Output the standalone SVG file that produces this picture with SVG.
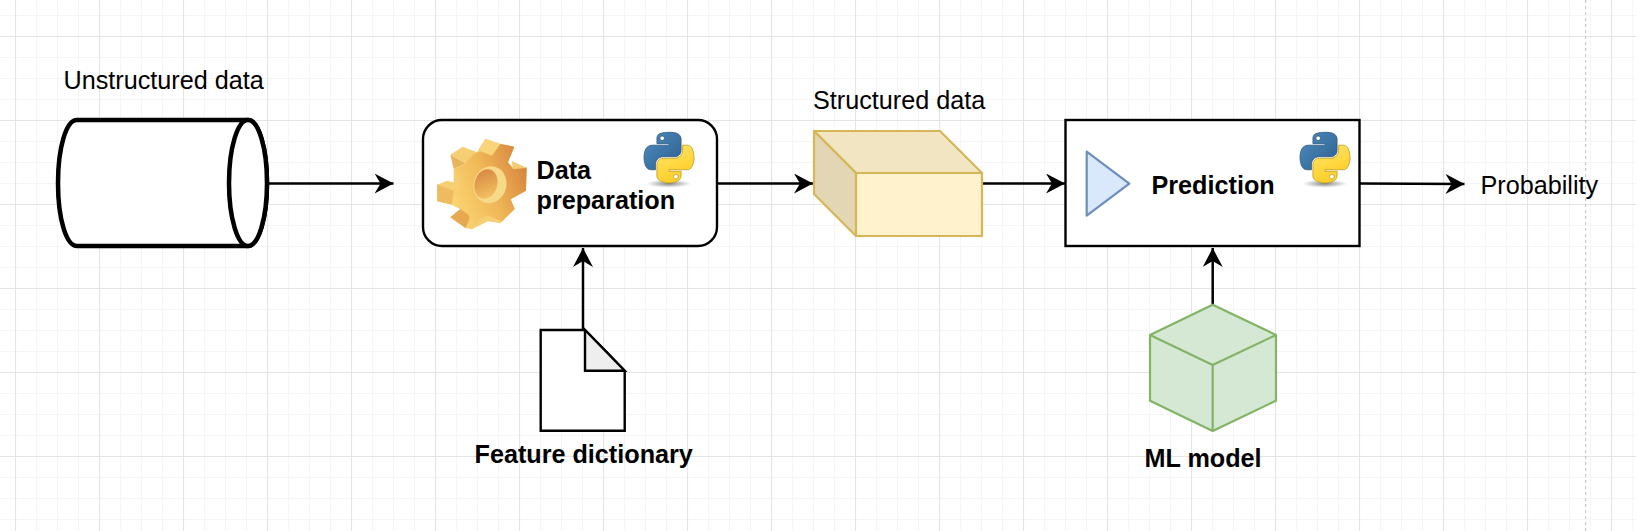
<svg xmlns="http://www.w3.org/2000/svg" xmlns:xlink="http://www.w3.org/1999/xlink" width="1636" height="531" viewBox="0 0 1636 531">
<style>
text{font-family:"Liberation Sans",Arial,sans-serif;font-size:25.2px;fill:#000}
.b{font-weight:bold}
.conn{fill:none;stroke:#000;stroke-width:2.5}
.k{stroke:#000;stroke-width:2.4;fill:#fff}
.y{stroke:#d6b656;stroke-width:2.2;stroke-linejoin:round}
.g{stroke:#82b366;stroke-width:2.2;fill:#d5e8d4;stroke-linejoin:round}
</style>
<defs>
<pattern id="grid" patternUnits="userSpaceOnUse" x="15" y="36" width="84" height="84">
<path d="M21.5 0V84M42.5 0V84M63.5 0V84M0 21.5H84M0 42.5H84M0 63.5H84" stroke="#f5f5f5" stroke-width="1" fill="none"/>
<path d="M.5 0V84M0 .5H84" stroke="#e4e4e4" stroke-width="1.2" fill="none"/>
</pattern>
<marker id="arr" markerUnits="userSpaceOnUse" viewBox="0 0 19 20" refX="19" refY="10" markerWidth="19" markerHeight="20" orient="auto">
<path d="M0 0L19 10L0 20L6 10Z" fill="#000"/>
</marker>
<linearGradient id="pyB" gradientUnits="userSpaceOnUse" x1="0" y1="0" x2="80" y2="70"><stop offset="0" stop-color="#4f8cbc"/><stop offset="1" stop-color="#2f6494"/></linearGradient>
<linearGradient id="pyY" gradientUnits="userSpaceOnUse" x1="70" y1="100" x2="45" y2="45"><stop offset="0" stop-color="#ffd02e"/><stop offset="1" stop-color="#ffe05a"/></linearGradient>
<radialGradient id="pyS"><stop offset="0" stop-color="#666" stop-opacity=".8"/><stop offset="1" stop-color="#777" stop-opacity="0"/></radialGradient>
<linearGradient id="gF" gradientUnits="userSpaceOnUse" x1="60" y1="210" x2="285" y2="120"><stop offset="0" stop-color="#fbd572"/><stop offset=".5" stop-color="#f0b858"/><stop offset="1" stop-color="#d9873f"/></linearGradient>
<linearGradient id="gH" gradientUnits="userSpaceOnUse" x1="135" y1="120" x2="190" y2="195"><stop offset="0" stop-color="#d98a45"/><stop offset="1" stop-color="#f6c964"/></linearGradient>
<symbol id="python" viewBox="0 0 111 123" overflow="visible">
<ellipse cx="55" cy="114" rx="50" ry="9" fill="url(#pyS)"/>
<path fill="url(#pyB)" stroke="#2d5c85" stroke-width="1.8" d="M54.919,0.001C50.335,0.022 45.957,0.413 42.106,1.095C30.760,3.099 28.700,7.295 28.700,15.032L28.700,25.251L55.512,25.251L55.512,28.657L28.700,28.657L18.637,28.657C10.845,28.657 4.022,33.341 1.888,42.251C-0.574,52.464 -0.683,58.837 1.888,69.501C3.793,77.438 8.344,83.095 16.137,83.095L25.356,83.095L25.356,70.845C25.356,61.995 33.013,54.188 42.106,54.188L68.887,54.188C76.341,54.188 82.294,48.050 82.294,40.564L82.294,15.032C82.294,7.766 76.164,2.307 68.887,1.095C64.280,0.328 59.503,-0.020 54.919,0.001ZM40.419,8.220C43.189,8.220 45.450,10.518 45.450,13.345C45.450,16.161 43.189,18.439 40.419,18.439C37.640,18.439 35.387,16.161 35.387,13.345C35.387,10.518 37.640,8.220 40.419,8.220Z"/>
<path fill="url(#pyY)" stroke="#c49a1e" stroke-width="1.8" d="M85.638,28.657L85.638,40.564C85.638,49.795 77.812,57.564 68.887,57.564L42.106,57.564C34.770,57.564 28.700,63.842 28.700,71.189L28.700,96.720C28.700,103.986 35.019,108.260 42.106,110.345C50.592,112.840 58.731,113.291 68.887,110.345C75.637,108.390 82.294,104.456 82.294,96.720L82.294,86.501L55.512,86.501L55.512,83.095L82.294,83.095L95.700,83.095C103.493,83.095 106.397,77.659 109.106,69.501C111.905,61.102 111.786,53.026 109.106,42.251C107.181,34.493 103.503,28.657 95.700,28.657L85.638,28.657ZM70.575,93.314C73.354,93.314 75.606,95.592 75.606,98.407C75.606,101.235 73.354,103.532 70.575,103.532C67.805,103.532 65.544,101.235 65.544,98.407C65.544,95.592 67.805,93.314 70.575,93.314Z"/>
</symbol>
</defs>
<rect width="1636" height="531" fill="#fff"/>
<rect id="grid-bg" width="1636" height="531" fill="url(#grid)"/>
<path id="page-edge" d="M1585.7 0V531" stroke="#bdbdbd" stroke-width="1" stroke-dasharray="3 3" fill="none"/>

<g id="connectors">
<path class="conn" d="M268 183.5H393.500" marker-end="url(#arr)"/>
<path class="conn" d="M717 183.5H813" marker-end="url(#arr)"/>
<path class="conn" d="M982 183.5H1065" marker-end="url(#arr)"/>
<path class="conn" d="M1360 183.5L1464.500 184" marker-end="url(#arr)"/>
<path class="conn" d="M583 330V248" marker-end="url(#arr)"/>
<path class="conn" d="M1212.700 305V248" marker-end="url(#arr)"/>
</g>

<g id="unstructured-data">
<path d="M77 120H248C258.500 120 267 148 267 183S258.500 246 248 246H77C66 246 58 218 58 183S66 120 77 120Z" fill="#fff" stroke="#000" stroke-width="4.500"/>
<ellipse cx="248" cy="183" rx="19" ry="63" fill="#fff" stroke="#000" stroke-width="4.500"/>
<text x="63.500" y="89">Unstructured data</text>
</g>

<g id="data-preparation">
<rect class="k" x="423" y="120" width="294" height="126" rx="19" ry="19"/>
<g id="gear" transform="translate(432 134) scale(.3333)">
<path fill="#f6cf74" d="M100 88L55 62L92 38L135 55L160 14L205 30L247 38L228 85L243 100L240 82L284 102L282 170L236 196L248 225L205 268L168 262L120 286L100 282L55 250L85 225L60 212L16 202L15 152L45 140L65 145L65 105Z"/>
<path fill="#e9b45c" d="M55 62L100 88L65 105Z"/>
<path fill="#f8d47a" d="M160 14L205 30L180 65L140 52Z"/>
<path fill="#eebb60" d="M15 152L65 170L60 212L16 202Z"/>
<path fill="#e7a94f" d="M55 250L85 225L118 245L100 282Z"/>
<path fill="url(#gF)" d="M100 88L125 60L145 52L180 65L205 30L247 38L228 85L243 105L284 100L282 170L236 196L248 225L210 262L168 245L150 250L120 286L110 242L85 225L60 212L65 170L85 148L65 105Z"/>
<path fill="#f4cb72" d="M240 82L284 102L243 105Z"/>
<ellipse cx="174" cy="152" rx="49" ry="56" fill="#f7d98a" transform="rotate(15 174 152)"/>
<ellipse cx="162" cy="150" rx="34" ry="45" fill="url(#gH)" transform="rotate(15 162 150)"/>
</g>
<use href="#python" xlink:href="#python" x="644" y="132.300" width="50" height="55.400"/>
<text class="b" x="536.500" y="179">Data</text>
<text class="b" x="536.500" y="209">preparation</text>
</g>

<g id="structured-data">
<path class="y" fill="#f2e5c1" d="M814 131H940L982 173H856Z"/>
<path class="y" fill="#e3d6b5" d="M814 131L856 173V236L814 194Z"/>
<rect class="y" fill="#fff2cc" x="856" y="173" width="126" height="63"/>
<text x="813" y="109">Structured data</text>
</g>

<g id="prediction">
<rect class="k" x="1065.500" y="120" width="294" height="126"/>
<path d="M1086.700 151.700L1129.300 183.700L1086.700 215.700Z" fill="#dae8fc" stroke="#6c8ebf" stroke-width="2.200" stroke-linejoin="round"/>
<use href="#python" xlink:href="#python" x="1300" y="132.300" width="50" height="55.400"/>
<text class="b" x="1151.500" y="194">Prediction</text>
</g>

<g id="probability">
<text x="1480.500" y="194">Probability</text>
</g>

<g id="feature-dictionary">
<path class="k" d="M540.700 330H585L624.700 370.700V430.700H540.700Z"/>
<path class="k" style="fill:#eee" d="M585 330L624.700 370.700H585Z"/>
<text class="b" x="474.500" y="463">Feature dictionary</text>
</g>

<g id="ml-model">
<path class="g" d="M1212.700 304.700L1276 335V400.700L1212.700 431L1150 400.700V335Z"/>
<path class="g" style="fill:none" d="M1150 335L1212.700 365L1276 335M1212.700 365V431"/>
<text class="b" x="1144.500" y="467">ML model</text>
</g>
</svg>
